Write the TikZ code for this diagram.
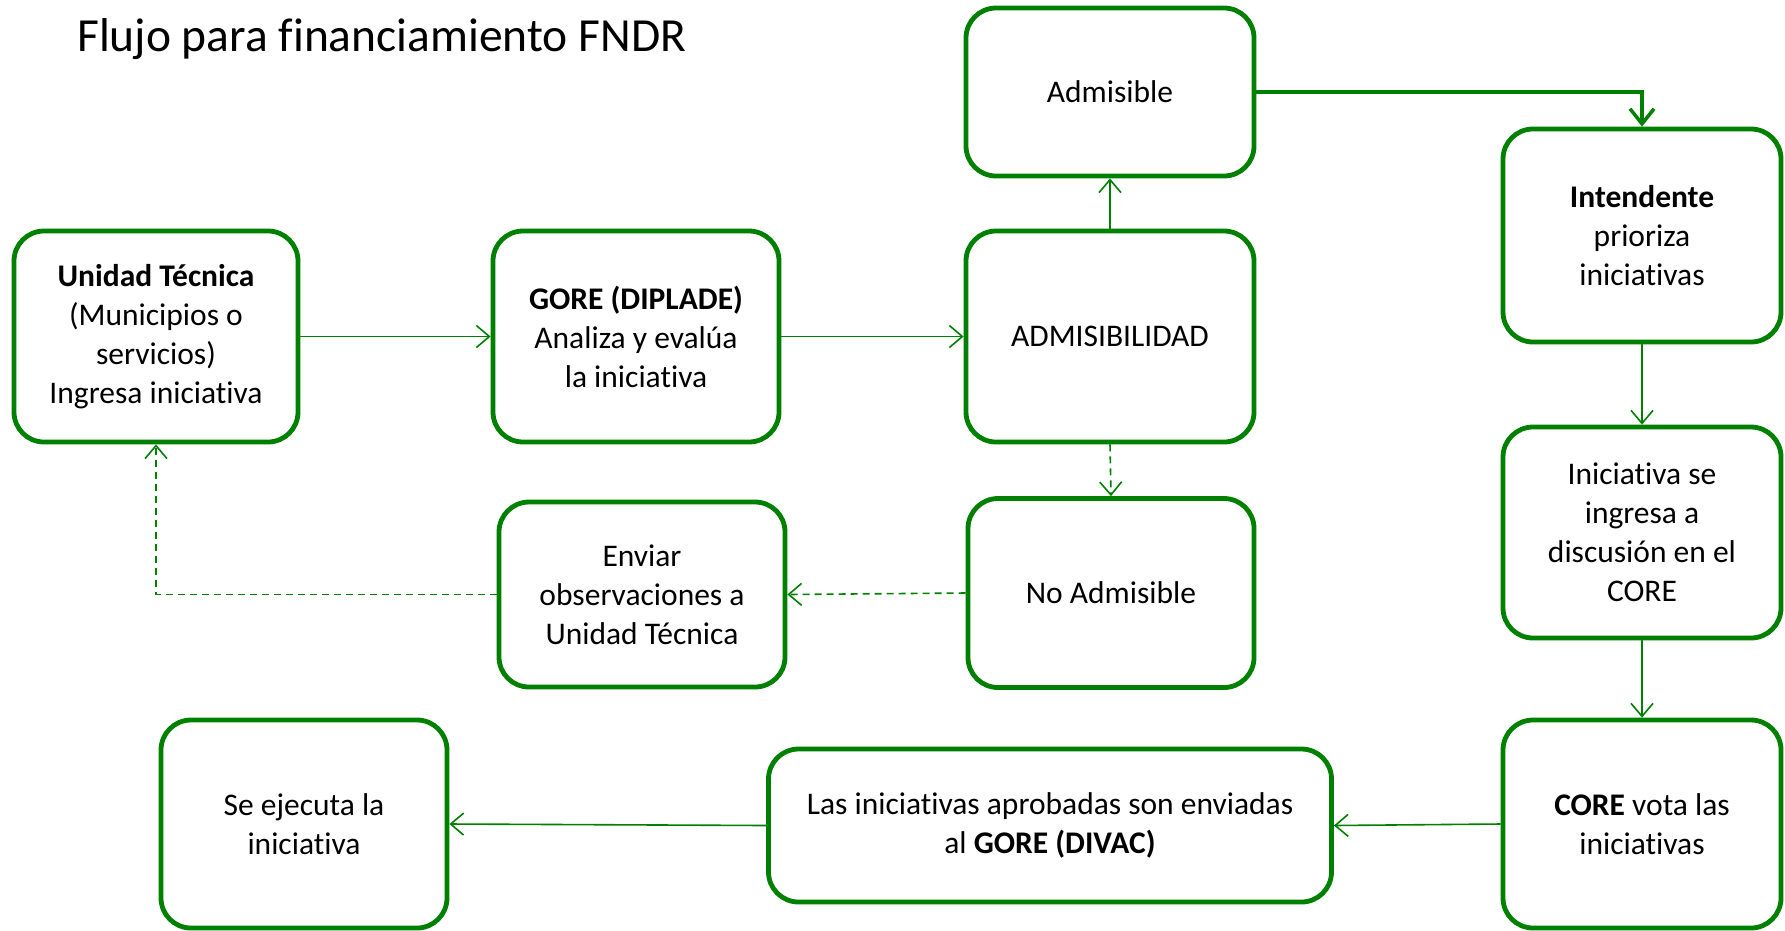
\documentclass[tikz,border=0pt]{standalone}
\usepackage{fontspec}
\setmainfont{Carlito}[Ligatures={NoCommon,NoRequired,NoContextual},Contextuals={NoAlternate}]
\usetikzlibrary{arrows.meta}
\definecolor{gr}{RGB}{0,128,0}
\begin{document}
\begin{tikzpicture}[x=1pt,y=-1pt,
  box/.style={draw=gr, line width=4.8pt, rounded corners=30pt, fill=white, align=center, inner sep=0pt, font=\fontsize{31.5}{39}\selectfont},
  conn/.style={draw=gr, line width=1.6pt, -{Straight Barb[length=13pt,width=22pt]}},
  dconn/.style={conn, dash pattern=on 7pt off 5pt},
  thickconn/.style={draw=gr, line width=3.5pt, -{Straight Barb[length=15pt,width=24pt]}},
]
\useasboundingbox (0,0) rectangle (1785,930);
\node[anchor=base west, inner sep=0pt, font=\fontsize{47.5}{56}\selectfont] (title) at (77,51) {Flujo para financiamiento FNDR};

\node[box, minimum width=284pt, minimum height=211pt] (ut) at (156,336.5) {\textbf{Unidad Técnica}\\(Municipios o\\servicios)\\Ingresa iniciativa};
\node[box, minimum width=286pt, minimum height=211pt] (gore) at (636,336.5) {\textbf{GORE (DIPLADE)}\\Analiza y evalúa\\la iniciativa};
\node[box, minimum width=288pt, minimum height=211pt] (admis) at (1110,336.5) {ADMISIBILIDAD};
\node[box, minimum width=288pt, minimum height=168pt] (adm) at (1110,92) {Admisible};
\node[box, minimum width=286pt, minimum height=189pt] (noadm) at (1111,593) {No Admisible};
\node[box, minimum width=286pt, minimum height=185pt] (env) at (642,594.5) {Enviar\\observaciones a\\Unidad Técnica};
\node[box, minimum width=278pt, minimum height=213pt] (int) at (1642,235.5) {\textbf{Intendente}\\prioriza\\iniciativas};
\node[box, minimum width=278pt, minimum height=211pt] (ini) at (1642,532.5) {Iniciativa se\\ingresa a\\discusión en el\\CORE};
\node[box, minimum width=278pt, minimum height=208pt] (core) at (1642,824) {\textbf{CORE} vota las\\iniciativas};
\node[box, minimum width=563pt, minimum height=153pt] (las) at (1050,825.5) {Las iniciativas aprobadas son enviadas\\al \textbf{GORE (DIVAC)}};
\node[box, minimum width=286pt, minimum height=208pt] (eje) at (304,824) {Se ejecuta la\\iniciativa};

\draw[conn] (ut.east) -- (gore.west);
\draw[conn] (gore.east) -- (admis.west);
\draw[conn] (admis.north) -- (adm.south);
\draw[thickconn] (adm.east) -| (int.north);
\draw[dconn] (admis.south) -- (noadm.north);
\draw[dconn] (noadm.west) -- (env.east);
\draw[dconn] (env.west) -| (ut.south);
\draw[conn] (int.south) -- (ini.north);
\draw[conn] (ini.south) -- (core.north);
\draw[conn] (core.west) -- (las.east);
\draw[conn] (las.west) -- (eje.east);
\end{tikzpicture}
\end{document}
